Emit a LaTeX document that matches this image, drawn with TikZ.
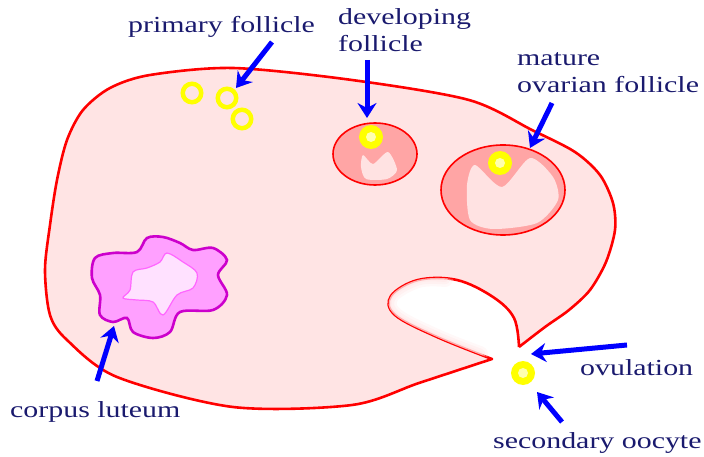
\documentclass[tikz,border=0pt]{standalone}
\usepackage{fontspec}
\newfontfamily\lblfont{Liberation Serif}[FakeStretch=1.3]
\usepackage{tikz}
\usetikzlibrary{arrows.meta, positioning}

\definecolor{ovaryfill}{RGB}{255,228,228}
\definecolor{ovaryline}{RGB}{255,0,0}
\definecolor{follfill}{RGB}{255,165,165}
\definecolor{antrumfill}{RGB}{255,226,226}
\definecolor{yolk}{RGB}{255,255,0}
\definecolor{yolkcore}{RGB}{255,255,175}
\definecolor{lutfill}{RGB}{255,160,255}
\definecolor{lutline}{RGB}{204,0,204}
\definecolor{lutcore}{RGB}{255,225,255}
\definecolor{lutcoreline}{RGB}{255,102,255}
\definecolor{arrowblue}{RGB}{0,0,255}
\definecolor{navy}{RGB}{26,26,110}

\begin{document}
\begin{tikzpicture}[
    x=1pt, y=-1pt,
    ovary/.style={fill=ovaryfill, draw=ovaryline, line width=2.6pt, line join=round},
    follicle/.style={fill=follfill, draw=ovaryline, line width=1.6pt},
    antrum/.style={fill=antrumfill},
    primfol/.style={circle, draw=yolk, line width=4.5pt, minimum size=18.5pt, inner sep=0pt},
    oocyte/.style={circle, fill=yolk, minimum size=24pt, inner sep=0pt,
                   path picture={\fill[yolkcore] (path picture bounding box.center) circle[radius=5pt];}},
    arr/.style={-{Stealth[length=15pt, width=19pt, inset=5pt]}, line width=5pt, arrowblue},
    lbl/.style={font=\lblfont\fontsize{23}{27.5}\selectfont, text=navy,
                anchor=base west, inner sep=0pt, align=left}
  ]
    \useasboundingbox (0,0) rectangle (704,457);

    %% OVARY OUTLINE (open at the rupture)
    \path[ovary] plot[smooth, tension=0.5] coordinates {(519,347) (545,327) (569,310) (590,290)
        (606,262) (615,230) (613,203) (600,175) (575,152) (532,130) (469,100) (352,80) (233,68)
        (150,75) (110,88) (83,110) (67,140) (57,180) (50,225) (45,270) (50,315) (67,340)
        (117,377) (233,407) (352,405) (419,383) (492,359)}
      -- plot[smooth, tension=0.6] coordinates {(492,359) (437,337) (395,315) (391,296)
        (418,280) (457,280) (493,297) (514,318) (519,347)};

    %% RUPTURED FOLLICLE (soft rim inside the opening)
    \begin{scope}
      \clip plot[smooth, tension=0.6] coordinates {(492,359) (437,337) (395,315) (391,296)
        (418,280) (457,280) (493,297) (514,318) (519,347)} -- cycle;
      \foreach \w/\o in {16/0.25, 11/0.35, 6/0.5}
        \draw[ovaryfill, line width=\w pt, opacity=\o, line cap=round]
          plot[smooth, tension=0.6] coordinates {(480,354) (437,337) (395,315) (391,296) (418,280) (445,279)};
    \end{scope}

    %% PRIMARY FOLLICLES
    \node[primfol] (prim1) at (192,93) {};
    \node[primfol] (prim2) at (227,98) {};
    \node[primfol] (prim3) at (242,119) {};

    %% DEVELOPING FOLLICLE
    \draw[follicle] (375,154) ellipse [x radius=42, y radius=31];
    \fill[antrum] plot[smooth cycle, tension=0.45] coordinates {(363,155) (373,164) (388,152)
      (397,170) (387,179) (366,179) (361,167)};
    \node[oocyte] (devoocyte) at (371,137) {};

    %% MATURE FOLLICLE
    \draw[follicle] (503,190) ellipse [x radius=62, y radius=45];
    \fill[antrum] plot[smooth cycle, tension=0.45] coordinates {(475,165) (502,187) (530,158)
      (553,177) (558,200) (537,223) (493,229) (470,220) (467,185)};
    \node[oocyte] (matoocyte) at (500,163) {};

    %% CORPUS LUTEUM
    \draw[fill=lutfill, draw=lutline, line width=2.6pt] plot[smooth cycle, tension=0.55] coordinates {
      (95,258) (113,253) (137,252) (147,238) (163,237) (180,243) (193,250) (213,248) (227,260)
      (218,275) (227,295) (213,310) (180,312) (170,332) (153,338) (133,332) (127,318) (113,322)
      (100,315) (100,295) (92,278)};
    \draw[fill=lutcore, draw=lutcoreline, line width=1.2pt] plot[smooth cycle, tension=0.55] coordinates {
      (123,298) (130,290) (133,272) (147,268) (160,262) (167,253) (183,262) (197,273) (193,288)
      (177,295) (163,315) (153,302) (137,300)};

    %% RELEASED OOCYTE
    \node[oocyte] (secoocyte) at (523,373) {};

    %% LABELS (two-line labels sit on their last line)
    \node[lbl] (primlbl) at (128,33) {primary follicle};
    \node[lbl] (devlbl) at (338,52) {developing\\follicle};
    \node[lbl] (matlbl) at (517,93) {mature\\ovarian follicle};
    \node[lbl] (lutlbl) at (10,417) {corpus luteum};
    \node[lbl] (ovulbl) at (580,375) {ovulation};
    \node[lbl] (seclbl) at (493,448) {secondary oocyte};

    %% ARROW ENDS
    \coordinate (prim-tail) at (272,42);  \coordinate (prim-tip) at (236,88);
    \coordinate (dev-tail) at (367,60);   \coordinate (dev-tip) at (367,118);
    \coordinate (mat-tail) at (552,103);  \coordinate (mat-tip) at (530,148);
    \coordinate (lut-tail) at (97,381);   \coordinate (lut-tip) at (114,326);
    \coordinate (ovu-tail) at (627,345);  \coordinate (ovu-tip) at (531,354);
    \coordinate (sec-tail) at (562,422);  \coordinate (sec-tip) at (537,392);

    %% ARROWS
    \draw[arr] (prim-tail) -- (prim-tip);
    \draw[arr] (dev-tail) -- (dev-tip);
    \draw[arr] (mat-tail) -- (mat-tip);
    \draw[arr] (lut-tail) -- (lut-tip);
    \draw[arr] (ovu-tail) -- (ovu-tip);
    \draw[arr] (sec-tail) -- (sec-tip);
  \end{tikzpicture}
\end{document}
